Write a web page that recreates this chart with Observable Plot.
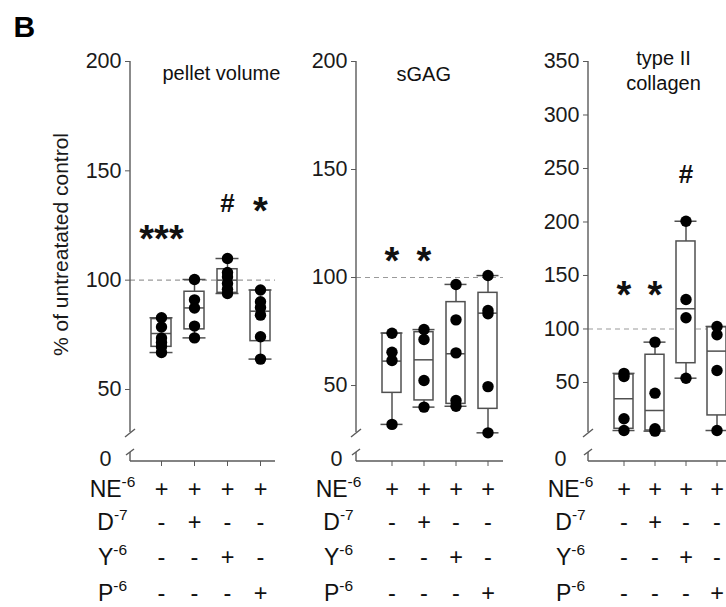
<!DOCTYPE html>
<html><head><meta charset="utf-8">
<script src="https://cdn.jsdelivr.net/npm/d3@7"></script>
<script src="https://cdn.jsdelivr.net/npm/@observablehq/plot@0.6"></script>
<style>
body{margin:0;background:#fff;}
#fig{display:flex;width:726px;height:607px;overflow:hidden;background:#fff;}
#fig svg{flex:none;overflow:hidden;max-width:none;}
</style></head><body><div id="fig"></div>
<script>
// ---- data ----
const groups = ["NE", "NE+D", "NE+Y", "NE+P"];
const rowNames = ["NE", "D", "Y", "P"];
const rowExps = ["-6", "-7", "-6", "-6"];
const rowSigns = [
  ["+", "+", "+", "+"],
  ["-", "+", "-", "-"],
  ["-", "-", "+", "-"],
  ["-", "-", "-", "+"]
];
const titles = ["pellet volume", "sGAG", "type II\ncollagen"];
const yLabel = "% of untreatated control";
const panelLetter = "B";

// pellet volume
const pelletDots = [[66.9, 69.5, 71.5, 73.5, 78.6, 82.8], [73.6, 79.0, 87.3, 91.0, 100.3], [93.9, 95.8, 98.5, 101.5, 103.5, 109.9], [63.9, 74.1, 84.0, 87.5, 90.1, 95.5]];
const pelletBox = [[66.9, 69.5, 75.6, 82.2, 82.8], [73.6, 77.5, 87.3, 94.7, 100.3], [93.9, 94.2, 100, 105.0, 109.9], [63.9, 72.1, 85.8, 95.2, 95.5]]; // min,q1,median,q3,max
const pelletSig = ["***", "", "#", "*"];
const pelletSigY = [123, null, 135, 136];
const pelletTicks = [50, 100, 150, 200];

// sGAG
const gagDots = [[32.0, 61.6, 65.4, 74.2], [40.0, 52.3, 71.3, 75.9], [40.4, 43.1, 65.1, 80.4, 96.8], [28.1, 49.5, 83.2, 84.7, 100.9]];
const gagBox = [[32.0, 46.6, 61.3, 74.0, 74.3], [40.0, 43.1, 61.9, 74.7, 75.9], [40.4, 41.5, 64.7, 88.6, 96.8], [28.1, 39.2, 83.5, 92.9, 100.9]];
const gagSig = ["*", "*", "", ""];
const gagSigY = [112, 112, null, null];
const gagTicks = [50, 100, 150, 200];

// type II collagen
const colDots = [[5.1, 16.1, 55.5, 58.5], [4.5, 6.7, 40.0, 87.7], [54.0, 110.5, 127.6, 200.7], [5.1, 61.2, 94.6, 102.3]];
const colBox = [[5.1, 6.7, 34.8, 57.5, 58.5], [4.5, 5.1, 23.8, 75.9, 87.7], [54.0, 68.0, 118.9, 181.8, 200.7], [5.1, 19.2, 79.3, 101.7, 102.3]];
const colSig = ["*", "*", "#", ""];
const colSigY = [140, 140, 244, null];
const colTicks = [50, 100, 150, 200, 250, 300, 350];

// ---- drawing ----
const FONT = "'Liberation Sans', Arial, Helvetica, sans-serif";
const AXIS = "#5a5a5a";
const BOX = "#505050";
const rowDy = [28, 61, 96, 132];

function panel(cfg) {
  const boxes = groups.map((g, i) => ({g, min: cfg.box[i][0], q1: cfg.box[i][1], med: cfg.box[i][2], q3: cfg.box[i][3], max: cfg.box[i][4]}));
  const pts = groups.flatMap((g, i) => cfg.dots[i].map(v => ({g, v})));
  const ann = groups.map((g, i) => ({g, s: cfg.sig[i], y: cfg.sigY[i]})).filter(d => d.s);
  const marks = [
    Plot.ruleY([100], {stroke: "#9a9a9a", strokeWidth: 1.2, strokeDasharray: "5,4"}),
    Plot.ruleX(boxes, {x: "g", y1: "min", y2: "max", stroke: BOX, strokeWidth: 1.5}),
    Plot.barY(boxes, {x: "g", y1: "q1", y2: "q3", fill: "white", stroke: BOX, strokeWidth: 1.5}),
    Plot.tickY(boxes, {x: "g", y: "med", stroke: BOX, strokeWidth: 1.5}),
    Plot.tickY(boxes, {x: "g", y: "min", stroke: BOX, strokeWidth: 1.5, insetLeft: -1.5, insetRight: -1.5}),
    Plot.tickY(boxes, {x: "g", y: "max", stroke: BOX, strokeWidth: 1.5, insetLeft: -1.5, insetRight: -1.5}),
    Plot.dot(pts, {x: "g", y: "v", r: 5.7, fill: "black"}),
    Plot.text(ann.filter(d => d.s.includes("*")), {x: "g", y: "y", text: "s", fontSize: 38, fontWeight: "bold", dy: 10, fill: "#111"}),
    Plot.text(ann.filter(d => d.s.includes("#")), {x: "g", y: "y", text: "s", fontSize: 26, fontWeight: "bold", fill: "#111"}),
    Plot.axisY(cfg.ticks, {tickSize: 5, tickPadding: 4, fontSize: 21.5, stroke: AXIS, fill: "#1a1a1a", label: null}),
    Plot.axisX({tickSize: 5, tickFormat: () => "", stroke: AXIS, label: null}),
    Plot.text(["0"], {frameAnchor: "bottom-left", dx: cfg.zeroDx, dy: -2, textAnchor: "end", lineAnchor: "middle", fontSize: 21.5, fill: "#1a1a1a"}),
    Plot.text([cfg.title], {frameAnchor: "top-left", dx: cfg.titleDx, dy: cfg.titleDy, textAnchor: cfg.titleAnchor, lineAnchor: "bottom", lineHeight: 1.25, fontSize: 20, fill: "#111"})
  ];
  rowSigns.forEach((row, r) => {
    marks.push(Plot.text(groups, {x: d => d, text: (d, i) => row[i], frameAnchor: "bottom", dy: rowDy[r], lineAnchor: "middle", fontSize: 23.5, fill: "#111"}));
    marks.push(Plot.text([rowNames[r] + "|" + rowExps[r]], {frameAnchor: "bottom-left", dx: -18, dy: rowDy[r], textAnchor: "middle", lineAnchor: "middle", fontSize: 23, fill: "#111", className: "rowlab"}));
  });
  if (cfg.first) {
    marks.push(Plot.text([panelLetter], {frameAnchor: "top-left", dx: -117, dy: -25, textAnchor: "start", lineAnchor: "bottom", fontSize: 30, fontWeight: "bold", fill: "#000"}));
    marks.push(Plot.text([yLabel], {frameAnchor: "left", dx: -69, dy: -17, rotate: -90, textAnchor: "middle", lineAnchor: "middle", fontSize: 21, fill: "#1a1a1a"}));
  }
  const svg = Plot.plot({
    width: cfg.width, height: 607,
    marginLeft: cfg.marginLeft, marginRight: cfg.marginRight, marginTop: 61, marginBottom: 146,
    style: {fontFamily: FONT, background: "white", overflow: "hidden"},
    x: {type: "band", domain: groups, range: cfg.xRange, paddingInner: 0.4, paddingOuter: 0.2, align: 0.5},
    y: {domain: cfg.yDomain, range: [436, 61]},
    marks
  });
  // superscripts for row labels
  d3.select(svg).selectAll("g.rowlab text").each(function () {
    const [a, b] = this.textContent.split("|");
    this.textContent = a;
    const t = document.createElementNS("http://www.w3.org/2000/svg", "tspan");
    t.setAttribute("dy", "-9.5");
    t.setAttribute("font-size", "15.5");
    t.textContent = b;
    this.appendChild(t);
  });
  // axis lines with break marks, derived from scale range and frame
  const yr = svg.scale("y").range;
  const top = Math.min(...yr), bot = Math.max(...yr);
  const fb = 607 - 146, L = cfg.marginLeft, R = cfg.width - cfg.marginRight;
  const g = d3.select(svg).append("g").attr("stroke", AXIS).attr("stroke-width", 1.4).attr("fill", "none");
  g.append("line").attr("x1", L).attr("x2", L).attr("y1", top).attr("y2", bot - 4);
  g.append("line").attr("x1", L - 5).attr("x2", L + 5).attr("y1", bot + 1).attr("y2", bot - 7);
  g.append("line").attr("x1", L - 4).attr("x2", L + 4).attr("y1", fb - 6).attr("y2", fb - 12);
  g.append("line").attr("x1", L).attr("x2", L).attr("y1", fb - 9).attr("y2", fb);
  g.append("line").attr("x1", L).attr("x2", R).attr("y1", fb).attr("y2", fb);
  return svg;
}

const fig = document.getElementById("fig");
fig.appendChild(panel({first: true, title: titles[0], titleDx: 32, titleDy: 18, titleAnchor: "start",
  dots: pelletDots, box: pelletBox, sig: pelletSig, sigY: pelletSigY, ticks: pelletTicks,
  yDomain: [28.5, 200], width: 290, marginLeft: 130, marginRight: 15, xRange: [143, 277], zeroDx: -19}));
fig.appendChild(panel({title: titles[1], titleDx: 40, titleDy: 19, titleAnchor: "start",
  dots: gagDots, box: gagBox, sig: gagSig, sigY: gagSigY, ticks: gagTicks,
  yDomain: [26.4, 200], width: 230, marginLeft: 66, marginRight: 17, xRange: [84.5, 214.5], zeroDx: -14}));
fig.appendChild(panel({title: titles[2], titleDx: 75, titleDy: 28, titleAnchor: "middle",
  dots: colDots, box: colBox, sig: colSig, sigY: colSigY, ticks: colTicks,
  yDomain: [-0.5, 350], width: 206, marginLeft: 68, marginRight: 0, xRange: [85.7, 213.3], zeroDx: -22}));
</script></body></html>
